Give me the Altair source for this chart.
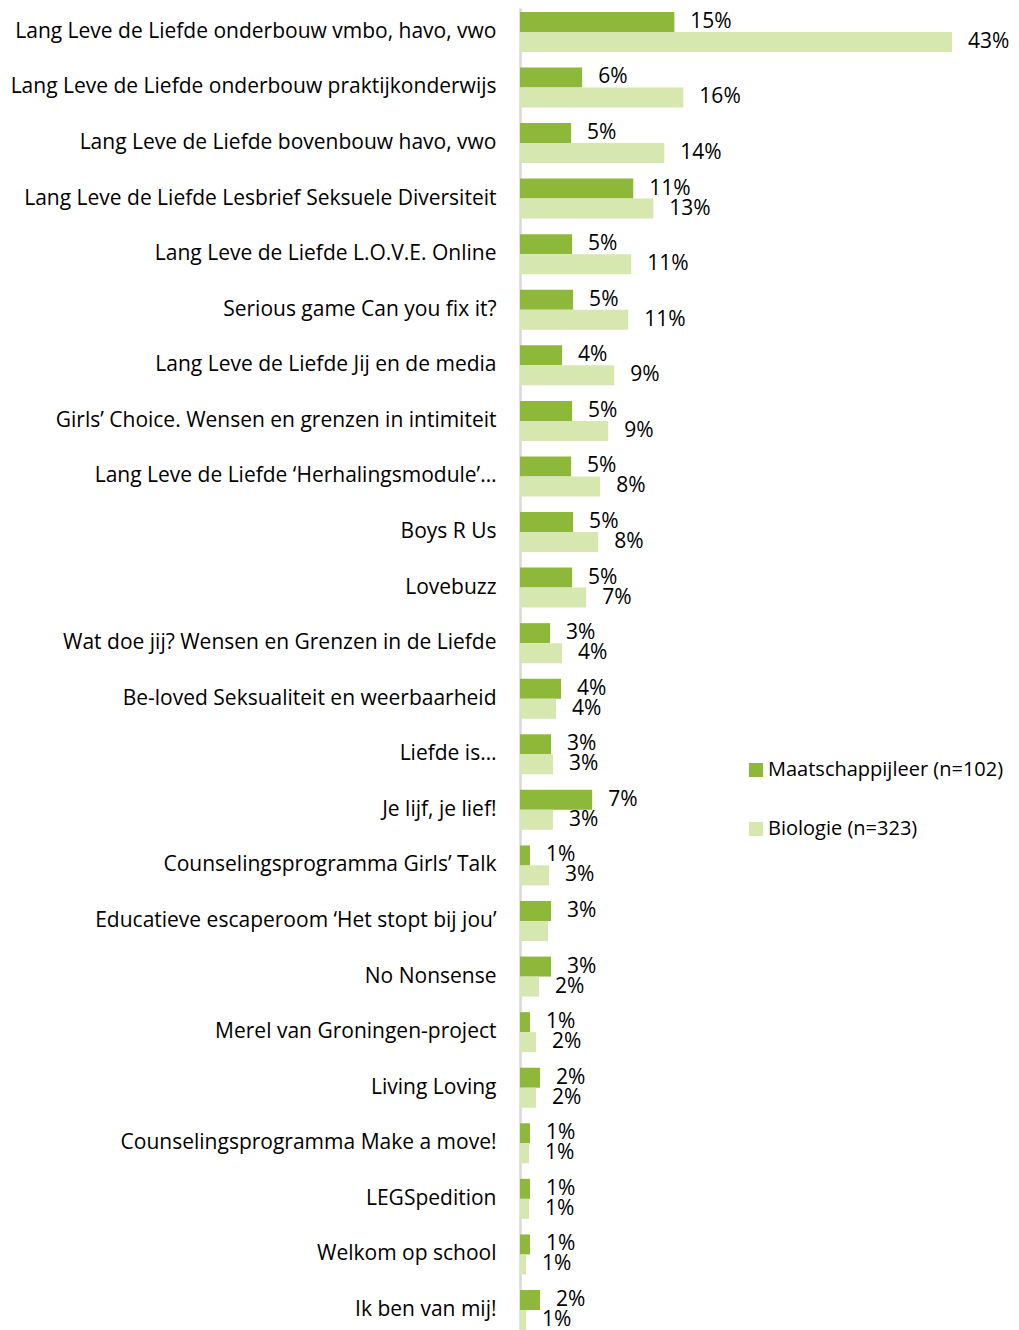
import altair as alt
import pandas as pd

categories = [
    "Lang Leve de Liefde onderbouw vmbo, havo, vwo",
    "Lang Leve de Liefde onderbouw praktijkonderwijs",
    "Lang Leve de Liefde bovenbouw havo, vwo",
    "Lang Leve de Liefde Lesbrief Seksuele Diversiteit",
    "Lang Leve de Liefde L.O.V.E. Online",
    "Serious game Can you fix it?",
    "Lang Leve de Liefde Jij en de media",
    "Girls’ Choice. Wensen en grenzen in intimiteit",
    "Lang Leve de Liefde ‘Herhalingsmodule’…",
    "Boys R Us",
    "Lovebuzz",
    "Wat doe jij? Wensen en Grenzen in de Liefde",
    "Be-loved Seksualiteit en weerbaarheid",
    "Liefde is…",
    "Je lijf, je lief!",
    "Counselingsprogramma Girls’ Talk",
    "Educatieve escaperoom ‘Het stopt bij jou’",
    "No Nonsense",
    "Merel van Groningen-project",
    "Living Loving",
    "Counselingsprogramma Make a move!",
    "LEGSpedition",
    "Welkom op school",
    "Ik ben van mij!",
]

series = ["Maatschappijleer (n=102)", "Biologie (n=323)"]

maatschappijleer = [15.4, 6.2, 5.1, 11.3, 5.2, 5.3, 4.2, 5.2, 5.1, 5.3, 5.2, 3.0,
                    4.1, 3.1, 7.2, 1.0, 3.1, 3.1, 1.0, 2.0, 1.0, 1.0, 1.0, 2.0]
biologie = [43.1, 16.3, 14.4, 13.3, 11.1, 10.8, 9.4, 8.8, 8.0, 7.8, 6.6, 4.2,
            3.6, 3.3, 3.3, 2.9, 2.8, 1.9, 1.6, 1.6, 0.9, 0.9, 0.6, 0.6]

maatschappijleer_labels = ["15%", "6%", "5%", "11%", "5%", "5%", "4%", "5%", "5%", "5%", "5%", "3%",
                           "4%", "3%", "7%", "1%", "3%", "3%", "1%", "2%", "1%", "1%", "1%", "2%"]
biologie_labels = ["43%", "16%", "14%", "13%", "11%", "11%", "9%", "9%", "8%", "8%", "7%", "4%",
                   "4%", "3%", "3%", "3%", "", "2%", "2%", "2%", "1%", "1%", "1%", "1%"]

colors = ["#8db83a", "#d6e8b0"]

rows = []
for i, c in enumerate(categories):
    rows.append({"cat": c, "serie": series[0], "value": maatschappijleer[i], "label": maatschappijleer_labels[i]})
    rows.append({"cat": c, "serie": series[1], "value": biologie[i], "label": biologie_labels[i]})
df = pd.DataFrame(rows)

FONT = "Open Sans"
FS = 21

y_enc = alt.Y("cat:N", sort=categories, title=None,
              scale=alt.Scale(paddingInner=0.28, paddingOuter=0.035, align=1),
              axis=alt.Axis(labelFont=FONT, labelFontSize=FS, labelColor="#000000",
                            ticks=False, labelPadding=24, domainColor="#d9d9d9",
                            domainWidth=2.5, minExtent=512, maxExtent=512,
                            labelLimit=600))
yoff = alt.YOffset("serie:N", sort=series, scale=alt.Scale(paddingInner=0, paddingOuter=0))
x_enc = alt.X("value:Q", scale=alt.Scale(domain=[0, 45]), axis=None)

bars = alt.Chart(df).mark_bar().encode(
    y=y_enc,
    yOffset=yoff,
    x=x_enc,
    color=alt.Color("serie:N", sort=series,
                    scale=alt.Scale(domain=series, range=colors),
                    legend=alt.Legend(title=None, orient="none", legendX=226, legendY=752,
                                      symbolType="square", symbolSize=196, symbolStrokeWidth=0,
                                      labelFont=FONT, labelFontSize=20, labelColor="#000000",
                                      labelOffset=2, rowPadding=39, padding=0,
                                      labelLimit=400)),
)

texts = alt.Chart(df).mark_text(align="left", baseline="middle", dx=16, font=FONT,
                                fontSize=FS, color="#000000").encode(
    y=alt.Y("cat:N", sort=categories),
    yOffset=yoff,
    x=x_enc,
    text="label:N",
)

chart = alt.layer(bars, texts).properties(
    width=451, height=1322,
    autosize=alt.AutoSizeParams(type="none"),
    padding={"left": 512, "top": 0, "right": 40, "bottom": 0},
).configure(background="#ffffff").configure_view(strokeWidth=0, stroke="transparent")

chart.save("out.html", embed_options={"renderer": "svg", "actions": False})
